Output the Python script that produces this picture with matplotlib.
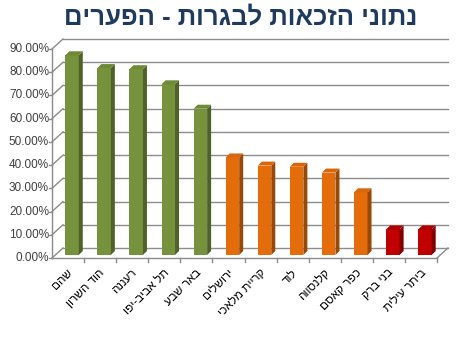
import numpy as np
import matplotlib
matplotlib.use("Agg")
import matplotlib.pyplot as plt
from matplotlib.patches import Polygon
from matplotlib.transforms import offset_copy

# ---------------- DATA ----------------
cities = ["שהם", "הוד השרון", "רעננה", "תל אביב-יפו", "באר שבע", "ירושלים",
          "קריית מלאכי", "לוד", "קלנסווה", "כפר קאסם", "בני ברק", "ביתר עילית"]
rates = [0.86, 0.805, 0.80, 0.735, 0.63, 0.42, 0.385, 0.38, 0.355, 0.27, 0.11, 0.11]
groups = ["high"] * 5 + ["mid"] * 5 + ["low"] * 2
yticks = [0.0, 0.1, 0.2, 0.3, 0.4, 0.5, 0.6, 0.7, 0.8, 0.9]

front = {"high": "#76923C", "mid": "#E46C0A", "low": "#C00000"}
side = {"high": "#4F6228", "mid": "#984807", "low": "#7F0000"}
top = {"high": "#6E8A36", "mid": "#D8660A", "low": "#B00000"}

title = "נתוני הזכאות לבגרות - הפערים"


def rtl(s):
    # matplotlib has no bidi support, flip Hebrew by hand
    return s[::-1]


plt.rcParams["font.family"] = ["Liberation Sans", "DejaVu Sans"]

W, H = 465, 348
fig = plt.figure(figsize=(W / 100, H / 100), dpi=100)
# front plane of the 3d box, in pixels
left, right, bottom, top_px = 52, 437, 258, 49
ax = fig.add_axes([left / W, (H - bottom) / H, (right - left) / W, (bottom - top_px) / H])
n = len(cities)
ax.set_xlim(0, n)
ax.set_ylim(0, 0.9)
ax.axis("off")

# back wall grid (depth offset)
back = offset_copy(ax.transData, fig=fig, x=11, y=10, units="dots")
grid_c = "#8C8C8C"
for v in yticks:
    ax.plot([0, n], [v, v], color=grid_c, lw=1.0, transform=back, clip_on=False, zorder=1)
    p0 = ax.transData.transform((0, v))
    ax.plot([p0[0], p0[0] + 11], [p0[1], p0[1] + 10], color=grid_c, lw=1.0,
            transform=None, clip_on=False, zorder=1)
# floor right edge + front edge
p1 = ax.transData.transform((n, 0))
ax.plot([p1[0], p1[0] + 11], [p1[1], p1[1] + 10], color=grid_c, lw=1.0,
        transform=None, clip_on=False, zorder=1)
ax.plot([0, n], [0, 0], color=grid_c, lw=1.0, clip_on=False, zorder=1)
ax.plot([0, 0], [0, 0.9], color=grid_c, lw=1.0, clip_on=False, zorder=1)

# y ticks + labels
for v in yticks:
    px = ax.transData.transform((0, v))
    ax.plot([px[0] - 3, px[0]], [px[1], px[1]], color=grid_c, lw=1.0,
            transform=None, clip_on=False)
    ax.text(px[0] - 3, px[1], f"{v * 100:.2f}%", transform=None, ha="right",
            va="center", fontsize=8.5, color="#404040")

# x ticks on category boundaries
for b in range(1, n + 1):
    px = ax.transData.transform((b, 0))
    ax.plot([px[0], px[0]], [px[1], px[1] - 4], color=grid_c, lw=1.0,
            transform=None, clip_on=False)

# bars (mid depth)
mid = offset_copy(ax.transData, fig=fig, x=4, y=3, units="dots")
bw = 0.42
dx, dy = 4, 4
x = np.arange(n) + 0.5
ax.bar(x, rates, width=bw, color=[front[g] for g in groups], transform=mid,
       zorder=3, clip_on=False, linewidth=0)
for xi, r, g in zip(x, rates, groups):
    (x0, y0) = mid.transform((xi - bw / 2, 0))
    (x1, y1) = mid.transform((xi + bw / 2, r))
    sidep = Polygon([(x1, y0), (x1 + dx, y0 + dy), (x1 + dx, y1 + dy), (x1, y1)],
                    closed=True, facecolor=side[g], edgecolor="none",
                    transform=None, zorder=3)
    topp = Polygon([(x0, y1), (x0 + dx, y1 + dy), (x1 + dx, y1 + dy), (x1, y1)],
                   closed=True, facecolor=top[g], edgecolor="none",
                   transform=None, zorder=3)
    fig.add_artist(sidep)
    fig.add_artist(topp)

# category labels
for xi, name in zip(x, cities):
    px = ax.transData.transform((xi, 0))
    ax.text(px[0] + 3, px[1] - 13, rtl(name), transform=None, rotation=45,
            rotation_mode="anchor", ha="right", va="center", fontsize=8.5,
            color="#000000")

fig.text(241 / W, 1 - 17 / H, rtl(title), ha="center", va="center",
         fontsize=18.5, fontweight="bold", color="#1F3A5F")

fig.savefig("out.png", dpi=100)
